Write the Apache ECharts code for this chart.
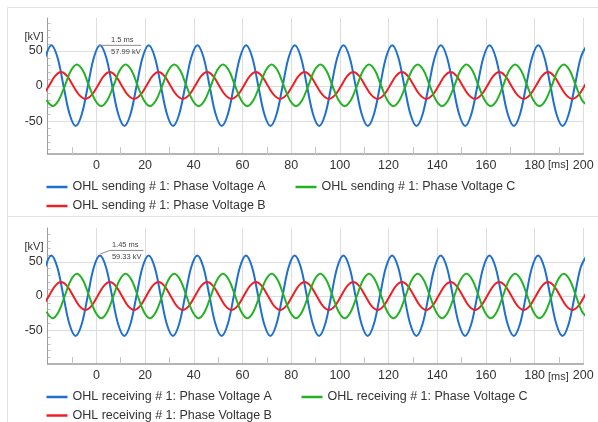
<!DOCTYPE html>
<html>
<head>
<meta charset="utf-8">
<script src="https://cdn.jsdelivr.net/npm/echarts@6/dist/echarts.min.js"></script>
<style>
  html, body { margin: 0; padding: 0; background: #ffffff; }
  #chart { width: 598px; height: 422px; }
</style>
</head>
<body>
<div id="chart"></div>
<script>
// Phase voltages of the overhead line, sending and receiving ends.
// Each series is a list of [time in ms, voltage in kV] at peaks, half-amplitude points and zero crossings.

const sendNames = [
  'OHL sending # 1: Phase Voltage A',
  'OHL sending # 1: Phase Voltage B',
  'OHL sending # 1: Phase Voltage C'
];
const recvNames = [
  'OHL receiving # 1: Phase Voltage A',
  'OHL receiving # 1: Phase Voltage B',
  'OHL receiving # 1: Phase Voltage C'
];

const sendA = [
  [-21, 41],
  [-18.5, 57.99], [-16, 41], [-13.5, 0], [-11, -40.3], [-8.5, -57], [-6, -40.3], [-3.5, 0], [-1, 41],
  [1.5, 57.99], [4, 41], [6.5, 0], [9, -40.3], [11.5, -57], [14, -40.3], [16.5, 0], [19, 41],
  [21.5, 57.99], [24, 41], [26.5, 0], [29, -40.3], [31.5, -57], [34, -40.3], [36.5, 0], [39, 41],
  [41.5, 57.99], [44, 41], [46.5, 0], [49, -40.3], [51.5, -57], [54, -40.3], [56.5, 0], [59, 41],
  [61.5, 57.99], [64, 41], [66.5, 0], [69, -40.3], [71.5, -57], [74, -40.3], [76.5, 0], [79, 41],
  [81.5, 57.99], [84, 41], [86.5, 0], [89, -40.3], [91.5, -57], [94, -40.3], [96.5, 0], [99, 41],
  [101.5, 57.99], [104, 41], [106.5, 0], [109, -40.3], [111.5, -57], [114, -40.3], [116.5, 0], [119, 41],
  [121.5, 57.99], [124, 41], [126.5, 0], [129, -40.3], [131.5, -57], [134, -40.3], [136.5, 0], [139, 41],
  [141.5, 57.99], [144, 41], [146.5, 0], [149, -40.3], [151.5, -57], [154, -40.3], [156.5, 0], [159, 41],
  [161.5, 57.99], [164, 41], [166.5, 0], [169, -40.3], [171.5, -57], [174, -40.3], [176.5, 0], [179, 41],
  [181.5, 57.99], [184, 41], [186.5, 0], [189, -40.3], [191.5, -57], [194, -40.3], [196.5, 0], [199, 41],
  [201.5, 57.99]
];

const sendB = [
  [-22, -13.1], [-19.5, 0], [-17, 14.1],
  [-14.5, 20], [-12, 14.1], [-9.5, 0], [-7, -13.1], [-4.5, -18.5], [-2, -13.1], [0.5, 0], [3, 14.1],
  [5.5, 20], [8, 14.1], [10.5, 0], [13, -13.1], [15.5, -18.5], [18, -13.1], [20.5, 0], [23, 14.1],
  [25.5, 20], [28, 14.1], [30.5, 0], [33, -13.1], [35.5, -18.5], [38, -13.1], [40.5, 0], [43, 14.1],
  [45.5, 20], [48, 14.1], [50.5, 0], [53, -13.1], [55.5, -18.5], [58, -13.1], [60.5, 0], [63, 14.1],
  [65.5, 20], [68, 14.1], [70.5, 0], [73, -13.1], [75.5, -18.5], [78, -13.1], [80.5, 0], [83, 14.1],
  [85.5, 20], [88, 14.1], [90.5, 0], [93, -13.1], [95.5, -18.5], [98, -13.1], [100.5, 0], [103, 14.1],
  [105.5, 20], [108, 14.1], [110.5, 0], [113, -13.1], [115.5, -18.5], [118, -13.1], [120.5, 0], [123, 14.1],
  [125.5, 20], [128, 14.1], [130.5, 0], [133, -13.1], [135.5, -18.5], [138, -13.1], [140.5, 0], [143, 14.1],
  [145.5, 20], [148, 14.1], [150.5, 0], [153, -13.1], [155.5, -18.5], [158, -13.1], [160.5, 0], [163, 14.1],
  [165.5, 20], [168, 14.1], [170.5, 0], [173, -13.1], [175.5, -18.5], [178, -13.1], [180.5, 0], [183, 14.1],
  [185.5, 20], [188, 14.1], [190.5, 0], [193, -13.1], [195.5, -18.5], [198, -13.1], [200.5, 0], [203, 14.1]
];

const sendC = [
  [-20.5, -20.2], [-18, -28.5], [-15.5, -20.2], [-13, 0], [-10.5, 21.6],
  [-8, 30.5], [-5.5, 21.6], [-3, 0], [-0.5, -20.2], [2, -28.5], [4.5, -20.2], [7, 0], [9.5, 21.6],
  [12, 30.5], [14.5, 21.6], [17, 0], [19.5, -20.2], [22, -28.5], [24.5, -20.2], [27, 0], [29.5, 21.6],
  [32, 30.5], [34.5, 21.6], [37, 0], [39.5, -20.2], [42, -28.5], [44.5, -20.2], [47, 0], [49.5, 21.6],
  [52, 30.5], [54.5, 21.6], [57, 0], [59.5, -20.2], [62, -28.5], [64.5, -20.2], [67, 0], [69.5, 21.6],
  [72, 30.5], [74.5, 21.6], [77, 0], [79.5, -20.2], [82, -28.5], [84.5, -20.2], [87, 0], [89.5, 21.6],
  [92, 30.5], [94.5, 21.6], [97, 0], [99.5, -20.2], [102, -28.5], [104.5, -20.2], [107, 0], [109.5, 21.6],
  [112, 30.5], [114.5, 21.6], [117, 0], [119.5, -20.2], [122, -28.5], [124.5, -20.2], [127, 0], [129.5, 21.6],
  [132, 30.5], [134.5, 21.6], [137, 0], [139.5, -20.2], [142, -28.5], [144.5, -20.2], [147, 0], [149.5, 21.6],
  [152, 30.5], [154.5, 21.6], [157, 0], [159.5, -20.2], [162, -28.5], [164.5, -20.2], [167, 0], [169.5, 21.6],
  [172, 30.5], [174.5, 21.6], [177, 0], [179.5, -20.2], [182, -28.5], [184.5, -20.2], [187, 0], [189.5, 21.6],
  [192, 30.5], [194.5, 21.6], [197, 0], [199.5, -20.2], [202, -28.5]
];

const recvA = [
  [-21.05, 42],
  [-18.55, 59.33], [-16.05, 42], [-13.55, 0], [-11.05, -41.4], [-8.55, -58.5], [-6.05, -41.4], [-3.55, 0], [-1.05, 42],
  [1.45, 59.33], [3.95, 42], [6.45, 0], [8.95, -41.4], [11.45, -58.5], [13.95, -41.4], [16.45, 0], [18.95, 42],
  [21.45, 59.33], [23.95, 42], [26.45, 0], [28.95, -41.4], [31.45, -58.5], [33.95, -41.4], [36.45, 0], [38.95, 42],
  [41.45, 59.33], [43.95, 42], [46.45, 0], [48.95, -41.4], [51.45, -58.5], [53.95, -41.4], [56.45, 0], [58.95, 42],
  [61.45, 59.33], [63.95, 42], [66.45, 0], [68.95, -41.4], [71.45, -58.5], [73.95, -41.4], [76.45, 0], [78.95, 42],
  [81.45, 59.33], [83.95, 42], [86.45, 0], [88.95, -41.4], [91.45, -58.5], [93.95, -41.4], [96.45, 0], [98.95, 42],
  [101.45, 59.33], [103.95, 42], [106.45, 0], [108.95, -41.4], [111.45, -58.5], [113.95, -41.4], [116.45, 0], [118.95, 42],
  [121.45, 59.33], [123.95, 42], [126.45, 0], [128.95, -41.4], [131.45, -58.5], [133.95, -41.4], [136.45, 0], [138.95, 42],
  [141.45, 59.33], [143.95, 42], [146.45, 0], [148.95, -41.4], [151.45, -58.5], [153.95, -41.4], [156.45, 0], [158.95, 42],
  [161.45, 59.33], [163.95, 42], [166.45, 0], [168.95, -41.4], [171.45, -58.5], [173.95, -41.4], [176.45, 0], [178.95, 42],
  [181.45, 59.33], [183.95, 42], [186.45, 0], [188.95, -41.4], [191.45, -58.5], [193.95, -41.4], [196.45, 0], [198.95, 42],
  [201.45, 59.33]
];

const recvB = [
  [-22, -14.5], [-19.5, 0], [-17, 14.5],
  [-14.5, 20.5], [-12, 14.5], [-9.5, 0], [-7, -14.5], [-4.5, -20.5], [-2, -14.5], [0.5, 0], [3, 14.5],
  [5.5, 20.5], [8, 14.5], [10.5, 0], [13, -14.5], [15.5, -20.5], [18, -14.5], [20.5, 0], [23, 14.5],
  [25.5, 20.5], [28, 14.5], [30.5, 0], [33, -14.5], [35.5, -20.5], [38, -14.5], [40.5, 0], [43, 14.5],
  [45.5, 20.5], [48, 14.5], [50.5, 0], [53, -14.5], [55.5, -20.5], [58, -14.5], [60.5, 0], [63, 14.5],
  [65.5, 20.5], [68, 14.5], [70.5, 0], [73, -14.5], [75.5, -20.5], [78, -14.5], [80.5, 0], [83, 14.5],
  [85.5, 20.5], [88, 14.5], [90.5, 0], [93, -14.5], [95.5, -20.5], [98, -14.5], [100.5, 0], [103, 14.5],
  [105.5, 20.5], [108, 14.5], [110.5, 0], [113, -14.5], [115.5, -20.5], [118, -14.5], [120.5, 0], [123, 14.5],
  [125.5, 20.5], [128, 14.5], [130.5, 0], [133, -14.5], [135.5, -20.5], [138, -14.5], [140.5, 0], [143, 14.5],
  [145.5, 20.5], [148, 14.5], [150.5, 0], [153, -14.5], [155.5, -20.5], [158, -14.5], [160.5, 0], [163, 14.5],
  [165.5, 20.5], [168, 14.5], [170.5, 0], [173, -14.5], [175.5, -20.5], [178, -14.5], [180.5, 0], [183, 14.5],
  [185.5, 20.5], [188, 14.5], [190.5, 0], [193, -14.5], [195.5, -20.5], [198, -14.5], [200.5, 0], [203, 14.5]
];

const recvC = [
  [-20.5, -23], [-18, -32.5], [-15.5, -23], [-13, 0], [-10.5, 23],
  [-8, 32.5], [-5.5, 23], [-3, 0], [-0.5, -23], [2, -32.5], [4.5, -23], [7, 0], [9.5, 23],
  [12, 32.5], [14.5, 23], [17, 0], [19.5, -23], [22, -32.5], [24.5, -23], [27, 0], [29.5, 23],
  [32, 32.5], [34.5, 23], [37, 0], [39.5, -23], [42, -32.5], [44.5, -23], [47, 0], [49.5, 23],
  [52, 32.5], [54.5, 23], [57, 0], [59.5, -23], [62, -32.5], [64.5, -23], [67, 0], [69.5, 23],
  [72, 32.5], [74.5, 23], [77, 0], [79.5, -23], [82, -32.5], [84.5, -23], [87, 0], [89.5, 23],
  [92, 32.5], [94.5, 23], [97, 0], [99.5, -23], [102, -32.5], [104.5, -23], [107, 0], [109.5, 23],
  [112, 32.5], [114.5, 23], [117, 0], [119.5, -23], [122, -32.5], [124.5, -23], [127, 0], [129.5, 23],
  [132, 32.5], [134.5, 23], [137, 0], [139.5, -23], [142, -32.5], [144.5, -23], [147, 0], [149.5, 23],
  [152, 32.5], [154.5, 23], [157, 0], [159.5, -23], [162, -32.5], [164.5, -23], [167, 0], [169.5, 23],
  [172, 32.5], [174.5, 23], [177, 0], [179.5, -23], [182, -32.5], [184.5, -23], [187, 0], [189.5, 23],
  [192, 32.5], [194.5, 23], [197, 0], [199.5, -23], [202, -32.5]
];

// Time axis span and step (ms), voltage axis spans (kV)
const timeAxis = [-20, 200, 20];
const sendRange = [-97, 97];
const recvRange = [-99.5, 99.5];

// Peak readouts [ms, kV]
const sendPeak = [1.5, 57.99];
const recvPeak = [1.45, 59.33];

const FONT = "'Liberation Sans', Arial, Helvetica, sans-serif";
const PHASE_COLORS = ['#1f6fcf', '#ee2026', '#22b322'];
const AXIS_GRAY = '#9c9c9c';
const GRID_GRAY = '#dddddd';
const TICK_GRAY = '#c4c4c4';

function xAxisFor(gridIndex) {
  return {
    type: 'value', gridIndex,
    min: timeAxis[0], max: timeAxis[1], interval: timeAxis[2],
    axisLine: { show: true, onZero: false, lineStyle: { color: AXIS_GRAY, width: 1.5 } },
    axisTick: { show: false, inside: true },
    minorTick: { show: true, splitNumber: 2, length: 7, lineStyle: { color: TICK_GRAY, width: 1 } },
    axisLabel: { showMinLabel: false, margin: 5.5, fontSize: 12.5, color: '#333', fontFamily: FONT },
    splitLine: { show: true, lineStyle: { color: GRID_GRAY, width: 1 } },
    minorSplitLine: { show: false }
  };
}

function yAxisFor(gridIndex, range) {
  return {
    type: 'value', gridIndex,
    min: range[0], max: range[1], splitNumber: 4,
    axisLine: { show: true, onZero: false, lineStyle: { color: AXIS_GRAY, width: 1 } },
    axisTick: { show: false, inside: true },
    minorTick: { show: true, splitNumber: 5, length: 3, lineStyle: { color: TICK_GRAY, width: 1 } },
    axisLabel: { showMinLabel: false, showMaxLabel: false, margin: 5, padding: [3, 0, 0, 0],
      fontSize: 12.5, color: '#333', fontFamily: FONT },
    splitLine: { show: true, showMinLine: false, showMaxLine: false, lineStyle: { color: GRID_GRAY, width: 1 } }
  };
}

function phaseSeries(name, data, color, axisIndex) {
  return {
    type: 'line', name, data,
    xAxisIndex: axisIndex, yAxisIndex: axisIndex,
    showSymbol: false, symbol: 'none',
    smooth: 0.35,
    lineStyle: { color, width: 2 },
    itemStyle: { color },
    emphasis: { disabled: true },
    animation: false
  };
}

function legendItem(name, left, top) {
  return {
    data: [name], left, top, padding: 0, itemGap: 0,
    icon: 'rect', itemWidth: 21, itemHeight: 2.5,
    textStyle: { fontSize: 12.5, color: '#333', fontFamily: FONT },
    selectedMode: true
  };
}

const chart = echarts.init(document.getElementById('chart'), null, { renderer: 'canvas' });

chart.setOption({
  animation: false,
  backgroundColor: '#ffffff',
  textStyle: { fontFamily: FONT },
  grid: [
    { left: 47.7, right: 14.7, top: 18, height: 136, outerBoundsMode: 'none', containLabel: false },
    { left: 47.7, right: 14.7, top: 228, height: 136, outerBoundsMode: 'none', containLabel: false }
  ],
  xAxis: [xAxisFor(0), xAxisFor(1)],
  yAxis: [yAxisFor(0, sendRange), yAxisFor(1, recvRange)],
  legend: [
    legendItem(sendNames[0], 46.5, 180.5),
    legendItem(sendNames[2], 295.5, 180.5),
    legendItem(sendNames[1], 46.5, 199.5),
    legendItem(recvNames[0], 46.5, 390.5),
    legendItem(recvNames[2], 301.5, 390.5),
    legendItem(recvNames[1], 46.5, 409)
  ],
  series: [
    phaseSeries(sendNames[0], sendA, PHASE_COLORS[0], 0),
    phaseSeries(sendNames[1], sendB, PHASE_COLORS[1], 0),
    phaseSeries(sendNames[2], sendC, PHASE_COLORS[2], 0),
    phaseSeries(recvNames[0], recvA, PHASE_COLORS[0], 1),
    phaseSeries(recvNames[1], recvB, PHASE_COLORS[1], 1),
    phaseSeries(recvNames[2], recvC, PHASE_COLORS[2], 1)
  ]
});

// Frame, unit captions and the peak readouts, placed from the laid-out grids.
const FRAME = '#e3e3e3';
const unitFont = `11px ${FONT}`;
const readFont = `7.5px ${FONT}`;
const pTop = chart.convertToPixel({ gridIndex: 0 }, sendPeak);
const pBot = chart.convertToPixel({ gridIndex: 1 }, recvPeak);

function caption(text, x, y, align) {
  return { type: 'text', x, y, silent: true, z: 10,
    style: { text, font: unitFont, fill: '#333', align, verticalAlign: 'middle' } };
}
function readout(text, x, y) {
  return { type: 'text', x, y, silent: true, z: 10,
    style: { text, font: readFont, fill: '#444', align: 'left', verticalAlign: 'middle' } };
}

chart.setOption({
  graphic: [
    { type: 'line', silent: true, shape: { x1: 7.5, y1: 7.5, x2: 7.5, y2: 422 }, style: { stroke: FRAME, lineWidth: 1 } },
    { type: 'line', silent: true, shape: { x1: 7.5, y1: 7.5, x2: 598, y2: 7.5 }, style: { stroke: FRAME, lineWidth: 1 } },
    { type: 'line', silent: true, shape: { x1: 7.5, y1: 216.5, x2: 598, y2: 216.5 }, style: { stroke: FRAME, lineWidth: 1 } },
    caption('[kV]', 43.5, 36.7, 'right'),
    caption('[kV]', 43.5, 247, 'right'),
    caption('[ms]', 548, 165, 'left'),
    caption('[ms]', 548, 376.5, 'left'),
    { type: 'line', silent: true, z: 10,
      shape: { x1: pTop[0] - 2, y1: pTop[1], x2: pTop[0] + 41, y2: pTop[1] },
      style: { stroke: '#8c8c8c', lineWidth: 1 } },
    readout(sendPeak[0] + ' ms', pTop[0] + 11, pTop[1] - 5.5),
    readout(sendPeak[1] + ' kV', pTop[0] + 11, pTop[1] + 7),
    { type: 'polyline', silent: true, z: 10,
      shape: { points: [[pBot[0] + 0.5, pBot[1] - 1.5], [pBot[0] + 10, pBot[1] - 5], [pBot[0] + 43.5, pBot[1] - 5]] },
      style: { stroke: '#8c8c8c', lineWidth: 1, fill: null } },
    readout(recvPeak[0] + ' ms', pBot[0] + 12, pBot[1] - 10.5),
    readout(recvPeak[1] + ' kV', pBot[0] + 12, pBot[1] + 1.5)
  ]
});
</script>
</body>
</html>
